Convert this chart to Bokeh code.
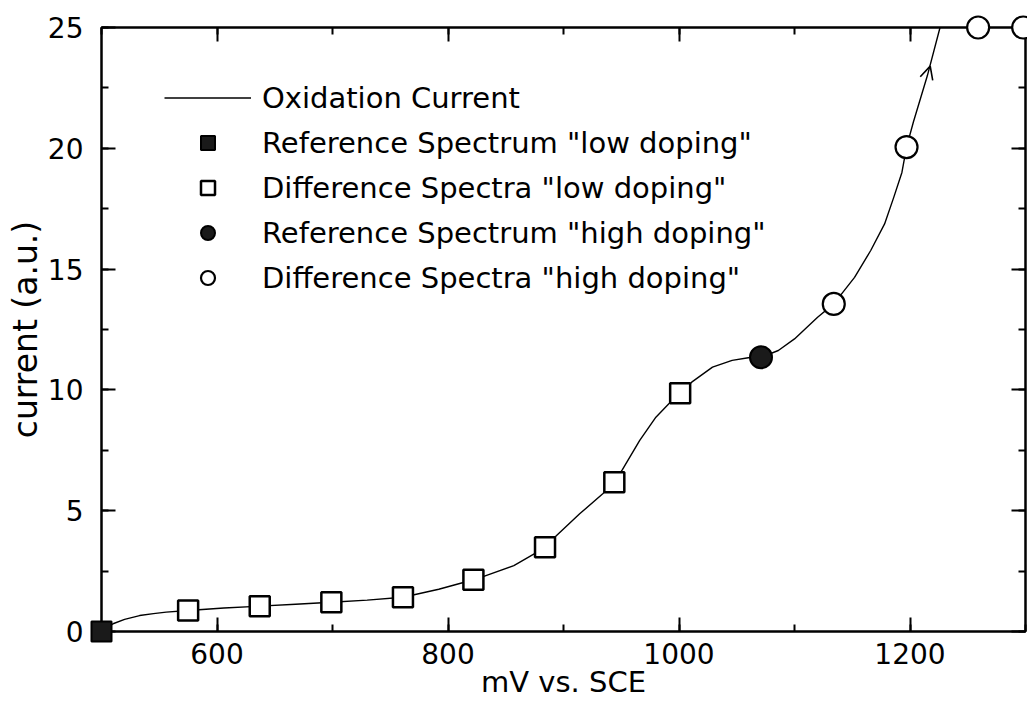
from bokeh.plotting import figure
from bokeh.models import (LinearAxis, SingleIntervalTicker, Range1d, Legend, LegendItem,
                          Arrow, OpenHead, CustomJSTickFormatter)
from bokeh.embed import file_html
from bokeh.resources import INLINE

# ---- data ----
# Oxidation current curve (mV vs. SCE, current a.u.)
curve_mv = [500, 505, 510, 520, 533, 545, 556, 575, 606, 637, 668, 699, 730, 761, 792,
            822, 831, 857, 875, 884, 894, 914, 934, 944, 951, 966, 980, 991, 1001, 1011,
            1029, 1046, 1060, 1071, 1086, 1100, 1120, 1134, 1152, 1166, 1178, 1186, 1193,
            1197, 1203, 1215, 1226, 1232]
curve_current = [0.0, 0.15, 0.32, 0.50, 0.66, 0.74, 0.80, 0.87, 0.97, 1.05, 1.13, 1.21, 1.30, 1.42, 1.75,
                 2.14, 2.28, 2.73, 3.22, 3.49, 3.97, 4.87, 5.70, 6.18, 6.70, 7.91, 8.87, 9.42, 9.86, 10.32,
                 10.94, 11.22, 11.33, 11.35, 11.63, 12.11, 13.01, 13.56, 14.66, 15.77, 16.87, 17.98, 19.0,
                 20.05, 21.1, 23.0, 25.0, 26.5]

ref_low_mv = [500]
ref_low_current = [0.0]
diff_low_mv = [575, 637, 699, 761, 822, 884, 944, 1001]
diff_low_current = [0.87, 1.05, 1.21, 1.42, 2.14, 3.49, 6.18, 9.86]
ref_high_mv = [1071]
ref_high_current = [11.35]
diff_high_mv = [1134, 1197, 1259, 1298]
diff_high_current = [13.56, 20.05, 25.0, 25.0]

# small hand-drawn arrow on the curve
arrow_mv = [1212.5, 1217.5]
arrow_current = [22.6, 23.4]

labels = ["Oxidation Current",
          'Reference Spectrum "low doping"',
          'Difference Spectra "low doping"',
          'Reference Spectrum "high doping"',
          'Difference Spectra "high doping"']

FONT = "DejaVu Sans"

p = figure(width=1027, height=701, x_range=Range1d(500, 1300), y_range=Range1d(0, 25),
           output_backend="svg", toolbar_location=None,
           min_border_left=101, min_border_right=2, min_border_top=27, min_border_bottom=70,
           x_axis_label="mV vs. SCE", y_axis_label="current (a.u.)")
p.grid.visible = False
p.background_fill_color = "white"
p.border_fill_color = "white"
p.outline_line_color = "black"
p.outline_line_width = 2

p.xaxis.ticker = SingleIntervalTicker(interval=200, num_minor_ticks=2)
p.yaxis.ticker = SingleIntervalTicker(interval=5, num_minor_ticks=2)


def style(ax):
    ax.major_tick_in = 14
    ax.major_tick_out = 0
    ax.minor_tick_in = 7
    ax.minor_tick_out = 0
    ax.major_tick_line_width = 2
    ax.minor_tick_line_width = 2
    ax.major_tick_line_color = "black"
    ax.minor_tick_line_color = "black"
    ax.axis_line_width = 2
    ax.axis_line_color = "black"
    ax.major_label_text_font = FONT
    ax.major_label_text_font_size = "28px"
    ax.major_label_text_color = "black"
    ax.axis_label_text_font = FONT
    ax.axis_label_text_font_size = "29px"
    ax.axis_label_text_font_style = "normal"
    ax.axis_label_text_color = "black"


for ax in p.xaxis + p.yaxis:
    style(ax)
p.xaxis.major_label_standoff = 11
p.xaxis.axis_label_standoff = -2
p.yaxis.major_label_standoff = 18
p.yaxis.axis_label_standoff = 0
p.yaxis.axis_label_text_font_size = "33px"

blank = "return ''"
top = LinearAxis(ticker=SingleIntervalTicker(interval=200, num_minor_ticks=2),
                 formatter=CustomJSTickFormatter(code=blank))
right = LinearAxis(ticker=SingleIntervalTicker(interval=5, num_minor_ticks=2),
                   formatter=CustomJSTickFormatter(code=blank))
for ax in (top, right):
    style(ax)
    ax.major_label_text_font_size = "0px"
    ax.major_label_standoff = 0
p.add_layout(top, "above")
p.add_layout(right, "right")

r_line = p.line(curve_mv, curve_current, line_color="black", line_width=1.4)

r_ref_low = p.scatter(ref_low_mv, ref_low_current, marker="square", size=20,
                      fill_color="#1a1a1a", line_color="black", line_width=2, level="overlay")
r_diff_low = p.scatter(diff_low_mv, diff_low_current, marker="square", size=20,
                       fill_color="white", line_color="black", line_width=2.5, level="overlay")
r_ref_high = p.scatter(ref_high_mv, ref_high_current, marker="circle", size=22,
                       fill_color="#1a1a1a", line_color="black", line_width=2, level="overlay")
r_diff_high = p.scatter(diff_high_mv, diff_high_current, marker="circle", size=22,
                        fill_color="white", line_color="black", line_width=2.2, level="overlay")

p.add_layout(Arrow(end=OpenHead(size=13, line_width=1.6, line_color="black"),
                   x_start=arrow_mv[0], y_start=arrow_current[0],
                   x_end=arrow_mv[1], y_end=arrow_current[1], line_color=None))

legend = Legend(items=[LegendItem(label=labels[0], renderers=[r_line]),
                       LegendItem(label=labels[1], renderers=[r_ref_low]),
                       LegendItem(label=labels[2], renderers=[r_diff_low]),
                       LegendItem(label=labels[3], renderers=[r_ref_high]),
                       LegendItem(label=labels[4], renderers=[r_diff_high])],
                location=(63, 336), glyph_width=87, glyph_height=35, label_height=35,
                spacing=10, padding=0, margin=0, label_standoff=11,
                border_line_color=None, background_fill_alpha=0,
                label_text_font=FONT, label_text_font_size="29px", label_text_color="black")
p.add_layout(legend)

open("out.html", "w").write(file_html(p, INLINE))
